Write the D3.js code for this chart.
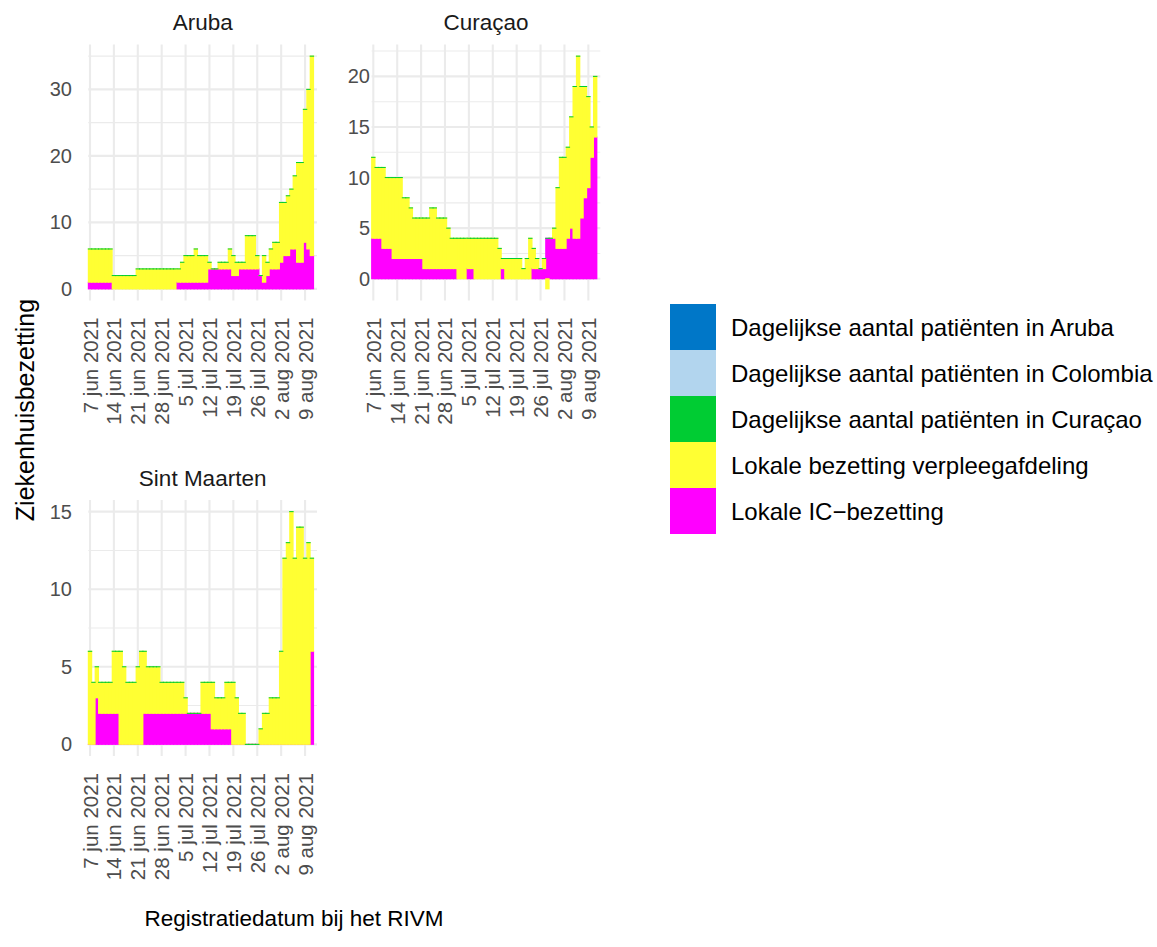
<!DOCTYPE html>
<html lang="nl">
<head>
<meta charset="UTF-8">
<title>Ziekenhuisbezetting per eiland</title>
<script src="https://d3js.org/d3.v7.min.js"></script>
<style>
  body { margin: 0; background: #ffffff; }
  svg { font-family: "Liberation Sans", Arial, Helvetica, sans-serif; }
</style>
</head>
<body>
<svg id="chart" width="1157" height="947"></svg>
<script>
// dagen 7 jun 2021 t/m 11 aug 2021
const dates = d3.utcDay.range(new Date(Date.UTC(2021, 5, 7)), new Date(Date.UTC(2021, 7, 12)));

const tickDates = ["2021-06-07", "2021-06-14", "2021-06-21", "2021-06-28", "2021-07-05",
                   "2021-07-12", "2021-07-19", "2021-07-26", "2021-08-02", "2021-08-09"];
const tickLabels = ["7 jun 2021", "14 jun 2021", "21 jun 2021", "28 jun 2021", "5 jul 2021",
                    "12 jul 2021", "19 jul 2021", "26 jul 2021", "2 aug 2021", "9 aug 2021"];

const seriesNames = ["Dagelijkse aantal patiënten in Aruba", "Dagelijkse aantal patiënten in Colombia",
                     "Dagelijkse aantal patiënten in Curaçao", "Lokale bezetting verpleegafdeling",
                     "Lokale IC\u2212bezetting"];
const seriesColors = ["#0077c8", "#b2d5ee", "#00cc33", "#ffff33", "#ff00ff"];

// Aruba
const arubaVerpleeg = [5,5,5,5,5,5,5, 2,2,2,2,2,2,2, 3,3,3,3,3,3,3,3,3,3,3,3,
  2,3,4,4,4,5,4,4,4,1, 0,0,1,1,1,3,3,2,1,1, 5,5,5,2,0,4,2,3,4,4, 9,8,9,9,11,15,15,20,24,30];
const arubaIC = [1,1,1,1,1,1,1, null,null,null,null,null,null,null,null,null,null,null,null,null,null,null,null,null,null,null,
  1,1,1,1,1,1,1,1,1, 3,3,3,3,3,3,3, 2,2, 3,3,3,3,3,3, 2,1,2, 3,3,3, 4,5,5,6,6,4,4,7,6,5];

// Curaçao
const curacaoVerpleeg = [8,7,7,8,7,7,8,8,8,6, 6,5,4,4,4,5,5,6,6,5, 5,5,4,3,3,4,4,4,3,3,
  4,4,4,4,4,4,4,3,1,2, 2,2,2,2,1,2,4,2,1,0, 1,-1,0,1,6,9,9,9,11,15, 18,13,11,9,3,6];
const curacaoIC = [4,4,4,3,3,3,2,2,2,2,2,2,2,2,2, 1,1,1,1,1,1,1,1,1,1, null,null,null, 1,1,
  null,null,null,null,null,null,null,null, 1, null,null,null,null,null,null,null,null,
  1,1,1,1, 4,4,4, 3,3,3, 4,5,4,4,6,8,9,12,14];

// Sint Maarten
const sintVerpleeg = [6,4,2,2,2,2,2,4,4,6, 5,4,4,4,5,6,4,3,3,3, 3,2,2,2,2,2,2,2,1,0,
  0,0,0,2,2,2,3,2,2,2, 3,3,4,3,2,2,0,0,0,0, 1,2,2,3,3,3,6,12,13,15, 12,14,14,12,13,6];
const sintIC = [0,0,3,2,2,2,2,2,2,0,0,0,0,0,0,0,
  2,2,2,2,2,2,2,2,2,2,2,2,2,2,2,2,2,2,2,2, 1,1,1,1,1,1,
  0,0,0,0,0,0,0,0,0,0,0,0,0,0,0,0,0,0,0,0,0,0,0, 6];

// dagelijkse patiënten in Curaçao (overal 0)
const patientenCuracao = [0,0,0,0,0,0,0,0,0,0, 0,0,0,0,0,0,0,0,0,0, 0,0,0,0,0,0,0,0,0,0,
  0,0,0,0,0,0,0,0,0,0, 0,0,0,0,0,0,0,0,0,0, 0,0,0,0,0,0,0,0,0,0, 0,0,0,0,0,0];

const panels = [
  { name: "Aruba", left: 88.3, top: 44.5, labelRight: 72, verpleeg: arubaVerpleeg, ic: arubaIC },
  { name: "Curaçao", left: 371.6, top: 44.5, labelRight: 370, verpleeg: curacaoVerpleeg, ic: curacaoIC },
  { name: "Sint Maarten", left: 88.3, top: 500, labelRight: 72, verpleeg: sintVerpleeg, ic: sintIC }
];
const panelW = 228.7, panelH = 256;

const svg = d3.select("#chart");
const half = 12 * 3600 * 1000;

panels.forEach(p => {
  const rows = dates.map((d, i) => {
    const ic = p.ic[i];
    const v = p.verpleeg[i];
    const base = ic == null ? 0 : ic;
    const r = { date: d, ic: ic, segs: [] };
    if (ic != null) r.segs.push({ y0: 0, y1: ic, c: seriesColors[4] });
    if (v >= 0) { r.segs.push({ y0: base, y1: base + v, c: seriesColors[3] }); r.top = base + v; }
    else { r.segs.push({ y0: v, y1: 0, c: seriesColors[3] }); r.top = base; }
    r.segs.push({ y0: r.top, y1: r.top + patientenCuracao[i], c: seriesColors[2] });
    r.min = Math.min(0, v);
    return r;
  });

  const x = d3.scaleUtc()
    .domain([new Date(dates[0].getTime() - half), new Date(dates[dates.length - 1].getTime() + 3 * half)])
    .range([p.left, p.left + panelW]);

  const lo = d3.min(rows, d => d.min), hi = d3.max(rows, d => d.top);
  const pad = (hi - lo) * 0.05;
  const y = d3.scaleLinear().domain([lo - pad, hi + pad]).range([p.top + panelH, p.top]);

  const major = y.ticks(5);
  const step = major[1] - major[0];
  const minor = [major[0] - step / 2].concat(major.map(t => t + step / 2))
    .filter(t => t >= y.domain()[0] && t <= y.domain()[1]);

  const g = svg.append("g");

  g.selectAll(".minor").data(minor).join("line")
    .attr("x1", p.left).attr("x2", p.left + panelW)
    .attr("y1", d => y(d)).attr("y2", d => y(d))
    .attr("stroke", "#ebebeb").attr("stroke-width", 1.05);
  g.selectAll(".major").data(major).join("line")
    .attr("x1", p.left).attr("x2", p.left + panelW)
    .attr("y1", d => y(d)).attr("y2", d => y(d))
    .attr("stroke", "#ebebeb").attr("stroke-width", 2.1);
  g.selectAll(".vgrid").data(tickDates).join("line")
    .attr("x1", d => x(new Date(d))).attr("x2", d => x(new Date(d)))
    .attr("y1", p.top).attr("y2", p.top + panelH)
    .attr("stroke", "#ebebeb").attr("stroke-width", 2.1);

  // staven per laag: IC, verpleeg, Curaçao; omlijning in eigen kleur (0.5px rondom)
  [0, 1, 2].forEach(k => {
    g.selectAll(".bar" + k).data(rows.filter(r => r.segs.length > k)).join("rect")
      .attr("x", d => x(new Date(d.date.getTime() - half)) - 0.5)
      .attr("width", d => x(new Date(d.date.getTime() + half)) - x(new Date(d.date.getTime() - half)) + 1)
      .attr("y", d => y(Math.max(d.segs[k].y0, d.segs[k].y1)) - 0.5)
      .attr("height", d => Math.abs(y(d.segs[k].y0) - y(d.segs[k].y1)) + 1)
      .attr("fill", d => d.segs[k].c);
  });

  // y-as labels
  g.selectAll(".ylab").data(major).join("text")
    .attr("x", p.labelRight).attr("y", d => y(d))
    .attr("text-anchor", "end").attr("dominant-baseline", "central")
    .attr("font-size", 20).attr("fill", "#4d4d4d")
    .text(d => d);

  // x-as labels
  g.selectAll(".xlab").data(tickDates).join("text")
    .attr("transform", d => `translate(${x(new Date(d))},${p.top + panelH + 17}) rotate(-90)`)
    .attr("text-anchor", "end").attr("dominant-baseline", "central")
    .attr("font-size", 20.5).attr("fill", "#4d4d4d")
    .text((d, i) => tickLabels[i]);

  // paneeltitel
  g.append("text")
    .attr("x", p.left + panelW / 2).attr("y", p.top - 22)
    .attr("text-anchor", "middle").attr("dominant-baseline", "central")
    .attr("font-size", 22.5).attr("fill", "#1a1a1a")
    .text(p.name);
});

// as-titels
svg.append("text")
  .attr("x", 294).attr("y", 918)
  .attr("text-anchor", "middle").attr("dominant-baseline", "central")
  .attr("font-size", 22.5).attr("fill", "#000")
  .text("Registratiedatum bij het RIVM");
svg.append("text")
  .attr("transform", "translate(25,410) rotate(-90)")
  .attr("text-anchor", "middle").attr("dominant-baseline", "central")
  .attr("font-size", 25).attr("fill", "#000")
  .text("Ziekenhuisbezetting");

// legenda
const leg = svg.append("g");
leg.selectAll("rect").data(seriesNames).join("rect")
  .attr("x", 670).attr("y", (d, i) => 304 + i * 46)
  .attr("width", 46).attr("height", 46)
  .attr("fill", (d, i) => seriesColors[i]);
leg.selectAll("text").data(seriesNames).join("text")
  .attr("x", 731).attr("y", (d, i) => 327 + i * 46)
  .attr("dominant-baseline", "central")
  .attr("font-size", 24).attr("fill", "#000")
  .text(d => d);
</script>
</body>
</html>
